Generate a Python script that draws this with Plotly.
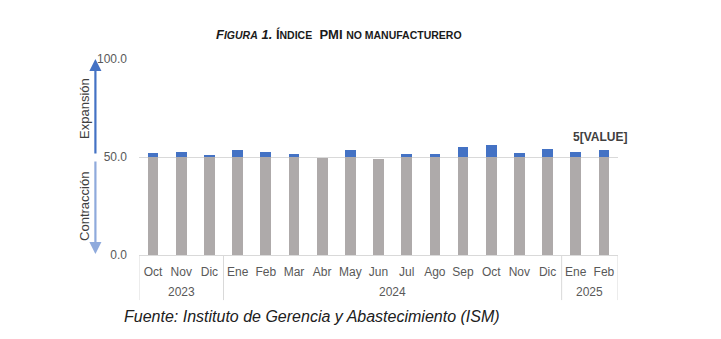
import plotly.graph_objects as go

# ISM services PMI, Oct 2023 - Feb 2025
years = ["2023"] * 3 + ["2024"] * 12 + ["2025"] * 2
months = ["Oct", "Nov", "Dic", "Ene", "Feb", "Mar", "Abr", "May", "Jun",
          "Jul", "Ago", "Sep", "Oct", "Nov", "Dic", "Ene", "Feb"]
pmi = [51.8, 52.7, 50.6, 53.4, 52.6, 51.4, 49.4, 53.8, 48.8,
       51.4, 51.5, 54.9, 56.0, 52.1, 54.1, 52.8, 53.5]
threshold = 50.0

keys = [f"{m} {y}" for m, y in zip(months, years)]
base_part = [min(v, threshold) for v in pmi]
above_part = [max(v - threshold, 0) for v in pmi]

GRAY = "#AEAAAA"
BLUE = "#4472C4"
LIGHT_BLUE = "#8FAADC"
TEXT = "#595959"
LINE = "#D9D9D9"

fig = go.Figure()
fig.add_trace(go.Bar(x=keys, y=base_part, marker_color=GRAY,
                     marker_line_width=0, showlegend=False, hoverinfo="skip"))
fig.add_trace(go.Bar(x=keys, y=above_part, marker_color=BLUE,
                     marker_line_width=0, showlegend=False, hoverinfo="skip"))

small = "<span style='font-size:10.5px'>"
title = (f"<b><i>F{small}IGURA</span> 1.</i> Í{small}NDICE</span>  PMI "
         f"{small}NO MANUFACTURERO</span></b>")

annotations = [
    dict(text=title, xref="paper", yref="paper", x=0.418, y=1.0, yshift=15,
         showarrow=False, font=dict(family="Liberation Sans", size=13, color="#1a1a1a"),
         xanchor="center", yanchor="bottom"),
    dict(text="<i>Fuente: Instituto de Gerencia y Abastecimiento (ISM)</i>",
         xref="paper", yref="paper", x=-0.036, y=0, yshift=-51,
         showarrow=False, font=dict(family="Liberation Sans", size=16, color="#202020"),
         xanchor="left", yanchor="top"),
    # data label of the last bar
    dict(text="<b>5[VALUE]</b>", xref="x", yref="y", x=keys[-1], y=pmi[-1],
         yshift=4, xshift=-4, showarrow=False,
         font=dict(family="Liberation Sans", size=12, color="#404040"),
         xanchor="center", yanchor="bottom"),
    # expansion / contraction arrows
    dict(xref="paper", yref="y", x=-0.091, y=100, ax=0, ay=96,
         showarrow=True, arrowhead=2, arrowsize=1.1, arrowwidth=2.2, arrowcolor=BLUE, text=""),
    dict(xref="paper", yref="y", x=-0.091, y=0.5, ax=0, ay=-94,
         showarrow=True, arrowhead=2, arrowsize=1.1, arrowwidth=2.2, arrowcolor=LIGHT_BLUE, text=""),
    dict(text="Expansión", xref="paper", yref="y", x=-0.115, y=75, textangle=-90,
         xanchor="center", yanchor="middle",
         showarrow=False, font=dict(family="Liberation Sans", size=13, color="#404040")),
    dict(text="Contracción", xref="paper", yref="y", x=-0.115, y=25, textangle=-90,
         xanchor="center", yanchor="middle",
         showarrow=False, font=dict(family="Liberation Sans", size=13, color="#404040")),
]

# year row labels and group dividers under the month labels
shapes = []
groups = []
start = 0
for i in range(1, len(years) + 1):
    if i == len(years) or years[i] != years[start]:
        groups.append((years[start], start, i - 1))
        start = i
for name, a, b in groups:
    annotations.append(dict(text=name, xref="x", yref="paper", x=(a + b) / 2, y=0,
                            yshift=-37, showarrow=False, yanchor="middle",
                            font=dict(family="Liberation Sans", size=12, color=TEXT)))
for pos in [-0.5] + [b + 0.5 for _, _, b in groups]:
    shapes.append(dict(type="line", xref="x", yref="paper", x0=pos, x1=pos,
                       y0=0, y1=-0.23, line=dict(color=LINE, width=1)))

fig.update_layout(
    width=721, height=339,
    margin=dict(l=139, r=103, t=59, b=84),
    paper_bgcolor="white", plot_bgcolor="white",
    barmode="stack", bargap=0.62,
    annotations=annotations, shapes=shapes,
    font=dict(family="Liberation Sans", size=12, color=TEXT),
)
fig.update_xaxes(type="category", tickvals=keys, ticktext=months, tickangle=0,
                 showline=True, linecolor=LINE, linewidth=1, ticks="",
                 ticklabelstandoff=6, range=[-0.5, len(keys) - 0.5],
                 tickfont=dict(size=12, color=TEXT))
fig.update_yaxes(range=[0, 100], tickvals=[0, 50, 100], tickformat=".1f",
                 showgrid=True, gridcolor=LINE, gridwidth=1, zeroline=False,
                 showline=False, ticks="", ticklabelstandoff=11,
                 tickfont=dict(size=12, color=TEXT))

fig.write_html("out.html")
